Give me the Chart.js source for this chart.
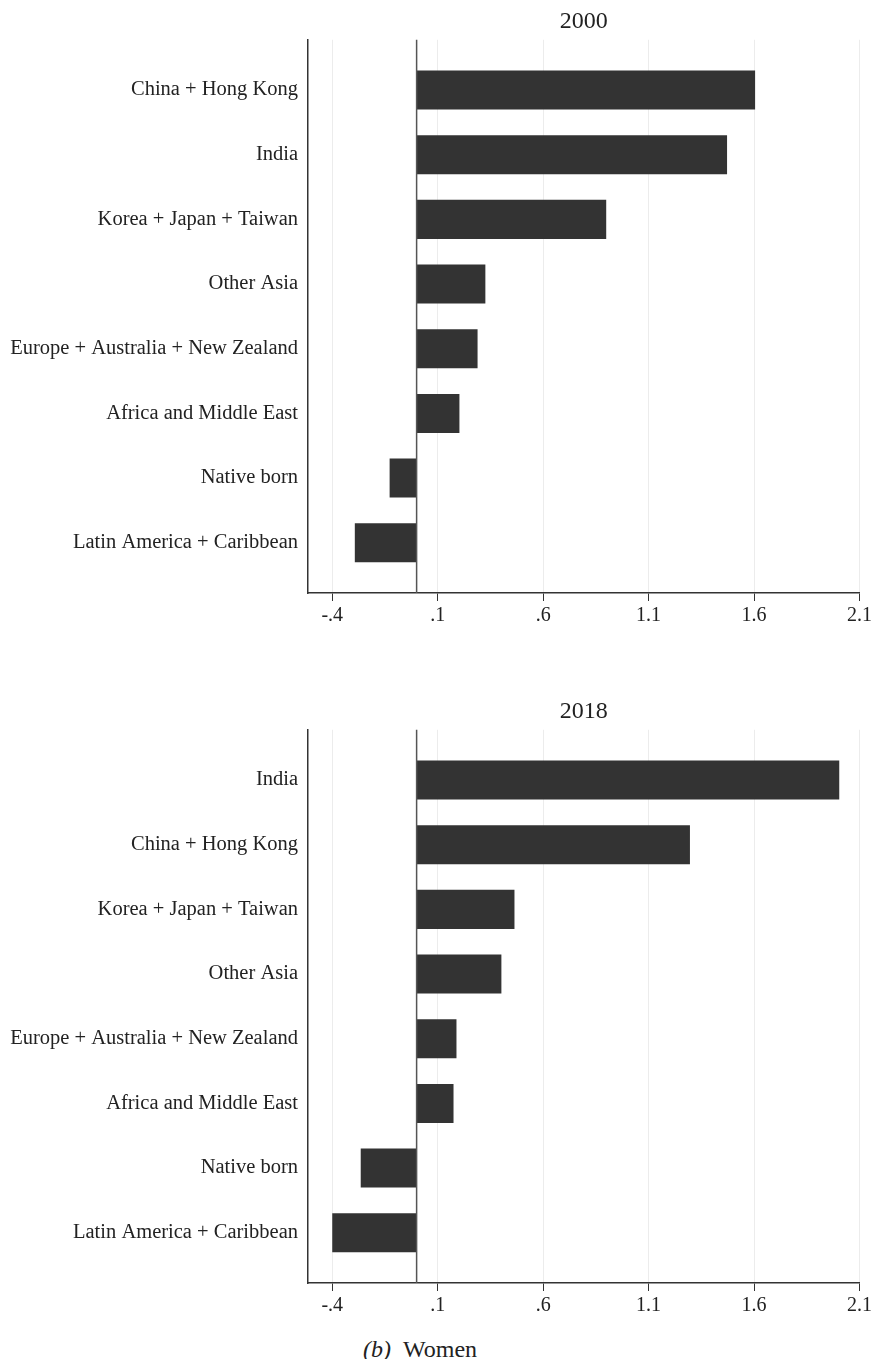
<!DOCTYPE html>
<html>
<head>
<meta charset="utf-8">
<script src="https://cdn.jsdelivr.net/npm/chart.js@4.4.0/dist/chart.umd.min.js"></script>
<style>
  body { margin: 0; background: #fff; width: 875px; height: 1359px; position: relative; overflow: hidden; }
  canvas { position: absolute; left: 0; }
  #p2000 { top: 0; }
  #p2018 { top: 690px; }
  #caption {
    position: absolute; top: 1335px; left: 363px;
    font-family: "Liberation Serif", serif; font-size: 24px; line-height: 28px;
    color: #222; white-space: nowrap;
  }
  #caption i { margin-right: 12px; }
</style>
</head>
<body>
<canvas id="p2000" width="875" height="633"></canvas>
<canvas id="p2018" width="875" height="633"></canvas>
<div id="caption"><i>(b)</i>Women</div>

<script>
// categories, top to bottom
const cats2000 = ["China + Hong Kong", "India", "Korea + Japan + Taiwan", "Other Asia",
    "Europe + Australia + New Zealand", "Africa and Middle East", "Native born", "Latin America + Caribbean"];
const vals2000 = [1.605, 1.472, 0.899, 0.326, 0.289, 0.203, -0.128, -0.293];

const cats2018 = ["India", "China + Hong Kong", "Korea + Japan + Taiwan", "Other Asia",
    "Europe + Australia + New Zealand", "Africa and Middle East", "Native born", "Latin America + Caribbean"];
const vals2018 = [2.004, 1.296, 0.464, 0.402, 0.189, 0.175, -0.265, -0.400];

const xTicks = [-0.4, 0.1, 0.6, 1.1, 1.6, 2.1];
const xTickLabels = ["-.4", ".1", ".6", "1.1", "1.6", "2.1"];

const fuente = "'Liberation Serif', serif";

// vertical line at zero
const lineaCero = {
    id: "lineaCero",
    afterDatasetsDraw(chart) {
        const { ctx, chartArea, scales } = chart;
        const x = scales.x.getPixelForValue(0);
        ctx.save();
        ctx.strokeStyle = "#555";
        ctx.lineWidth = 1.5;
        ctx.beginPath();
        ctx.moveTo(x, chartArea.top);
        ctx.lineTo(x, chartArea.bottom);
        ctx.stroke();
        ctx.restore();
    }
};

function panel(id, titulo, cats, vals) {
    new Chart(document.getElementById(id), {
        type: "bar",
        data: {
            datasets: [{
                data: cats.map((c, i) => ({ x: vals[i], y: i })),
                backgroundColor: "#333333",
                barPercentage: 0.604,
                categoryPercentage: 1
            }]
        },
        options: {
            indexAxis: "y",
            responsive: false,
            animation: false,
            layout: { padding: { right: 12 } },
            plugins: {
                legend: { display: false },
                tooltip: { enabled: false },
                title: {
                    display: true,
                    fullSize: false,
                    text: titulo,
                    color: "#222",
                    font: { family: fuente, size: 24, weight: "normal" },
                    padding: { top: 7, bottom: 4 }
                }
            },
            scales: {
                x: {
                    type: "linear",
                    min: -0.515,
                    max: 2.1,
                    afterBuildTicks: s => { s.ticks = xTicks.map(v => ({ value: v })); },
                    afterFit: s => { s.height = 40; },
                    ticks: {
                        callback: (v, i) => xTickLabels[i],
                        font: { family: fuente, size: 20 },
                        color: "#222",
                        padding: 3,
                        maxRotation: 0,
                        autoSkip: false
                    },
                    grid: { color: "#ececec", lineWidth: 1, tickColor: "#333", tickLength: 8 },
                    border: { color: "#333", width: 1.5 }
                },
                y: {
                    type: "linear",
                    reverse: true,
                    offset: false,
                    min: -0.777,
                    max: 7.777,
                    afterBuildTicks: s => { s.ticks = cats.map((c, i) => ({ value: i })); },
                    afterFit: s => { s.width = 308; },
                    ticks: {
                        callback: v => cats[v],
                        font: { family: fuente, size: 20.5 },
                        color: "#222",
                        padding: 10,
                        autoSkip: false
                    },
                    grid: { display: false, drawTicks: false, offset: false },
                    border: { color: "#333", width: 1.5 }
                }
            }
        },
        plugins: [lineaCero]
    });
}

panel("p2000", "2000", cats2000, vals2000);
panel("p2018", "2018", cats2018, vals2018);
</script>
</body>
</html>
